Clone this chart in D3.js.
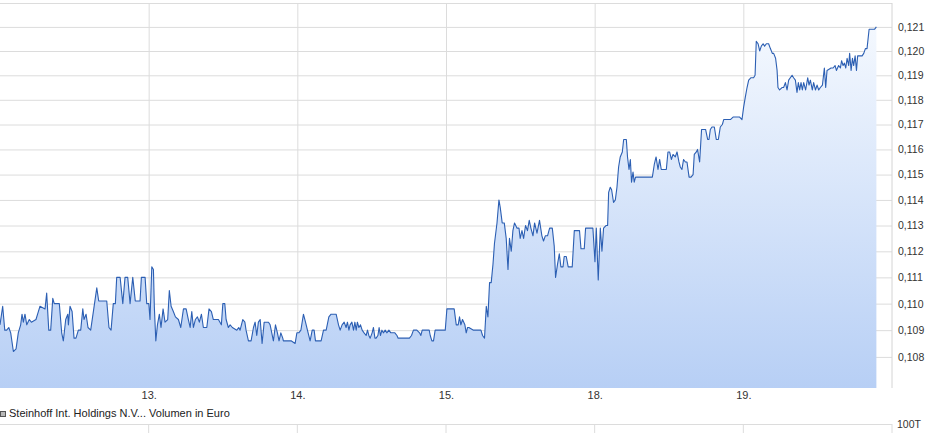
<!DOCTYPE html>
<html>
<head>
<meta charset="utf-8">
<script src="https://d3js.org/d3.v7.min.js"></script>
<style>
  body { margin: 0; background: #fff; }
  svg { display: block; font-family: "Liberation Sans", Arial, sans-serif; }
</style>
</head>
<body>
<div id="chart"></div>
<script>
// trading days shown (12. is the cut-off first day at the left edge)
const dayTicks = [1, 2, 3, 4, 5];
const dayLabels = ["13.", "14.", "15.", "18.", "19."];

const priceTicks = [0.108, 0.109, 0.110, 0.111, 0.112, 0.113, 0.114, 0.115, 0.116, 0.117, 0.118, 0.119, 0.120, 0.121];
const gridTicks = [0.108, 0.109, 0.110, 0.111, 0.112, 0.113, 0.114, 0.115, 0.116, 0.117, 0.118, 0.119, 0.120, 0.121, 0.122];
const yDomain = [0.10685, 0.122];
const xDomain = [0, 6];

const legendText = "Steinhoff Int. Holdings N.V... Volumen in Euro";
const volumeTick = "100T";

// time in trading days since the open of the 12th
const times = [
  0.000, 0.018, 0.032, 0.045, 0.059, 0.072, 0.090, 0.108, 0.123, 0.139, 0.148, 0.157, 0.168, 0.180, 0.197, 0.211,
  0.242, 0.258, 0.269, 0.303, 0.314, 0.328, 0.341, 0.355, 0.365, 0.399, 0.415, 0.426, 0.442, 0.456, 0.460, 0.471,
  0.485, 0.498, 0.511, 0.527, 0.543, 0.557, 0.565, 0.579, 0.592, 0.610, 0.628, 0.651, 0.664, 0.718, 0.733, 0.747,
  0.762, 0.776, 0.785, 0.808, 0.826, 0.841, 0.859, 0.875, 0.893, 0.910, 0.942, 0.951, 0.976, 0.987, 1.001, 1.009,
  1.021, 1.032, 1.038, 1.048, 1.059, 1.072, 1.083, 1.097, 1.110, 1.128, 1.139, 1.151, 1.166, 1.180, 1.200, 1.216,
  1.234, 1.252, 1.267, 1.279, 1.290, 1.301, 1.314, 1.328, 1.341, 1.355, 1.368, 1.391, 1.406, 1.422, 1.435, 1.469,
  1.489, 1.499, 1.512, 1.521, 1.536, 1.548, 1.563, 1.593, 1.606, 1.615,
  1.633, 1.647, 1.655, 1.671, 1.689, 1.705, 1.716, 1.727, 1.738, 1.750, 1.763, 1.777, 1.806, 1.817, 1.828, 1.839,
  1.853, 1.866, 1.877, 1.889, 1.902, 1.906, 1.958, 1.985, 1.997, 2.010, 2.024, 2.041, 2.055, 2.068, 2.086, 2.100,
  2.113, 2.122, 2.160, 2.176, 2.194, 2.212, 2.227, 2.261, 2.277, 2.288, 2.301, 2.315, 2.328, 2.337, 2.347, 2.355,
  2.367, 2.378, 2.387, 2.396, 2.404, 2.414, 2.425, 2.436, 2.449, 2.463, 2.472, 2.481, 2.490, 2.503, 2.512, 2.522,
  2.530, 2.542, 2.550, 2.559, 2.569, 2.579, 2.591, 2.602, 2.616, 2.629, 2.643, 2.656, 2.670, 2.678, 2.725, 2.754,
  2.768, 2.781, 2.804, 2.822, 2.831, 2.840, 2.887, 2.894, 2.905, 2.916, 2.927, 2.995, 3.006, 3.055, 3.069, 3.082,
  3.091, 3.100, 3.111, 3.127, 3.136, 3.145, 3.154, 3.185, 3.219, 3.235, 3.246, 3.259, 3.271, 3.282, 3.293, 3.304,
  3.316, 3.326, 3.343, 3.356, 3.365, 3.378, 3.392, 3.405, 3.417, 3.427, 3.439, 3.450, 3.461, 3.477, 3.491, 3.499,
  3.511, 3.522, 3.535, 3.548, 3.560, 3.571, 3.585, 3.596, 3.612, 3.629, 3.645, 3.656, 3.668, 3.683, 3.697, 3.715,
  3.728, 3.737, 3.750, 3.762, 3.773, 3.787, 3.795, 3.809, 3.822, 3.849, 3.863, 3.898, 3.908, 3.930, 3.939, 3.988,
  4.002, 4.011, 4.024, 4.038, 4.049, 4.060, 4.076, 4.087, 4.094, 4.105, 4.114, 4.127, 4.139, 4.150, 4.161, 4.172,
  4.186, 4.195, 4.213, 4.221, 4.231, 4.240, 4.248, 4.258, 4.266, 4.275, 4.285, 4.388, 4.401, 4.413, 4.426, 4.437,
  4.448, 4.482, 4.493, 4.504, 4.516, 4.527, 4.542, 4.554, 4.567, 4.576, 4.587, 4.598, 4.610, 4.621, 4.635, 4.648,
  4.662, 4.670, 4.684, 4.692, 4.706, 4.719, 4.746, 4.760, 4.769, 4.778, 4.789, 4.805, 4.818, 4.832, 4.845, 4.859,
  4.868, 4.913, 4.931, 4.962, 4.975, 4.991, 5.002, 5.013, 5.025, 5.036, 5.052, 5.069, 5.079, 5.087, 5.099, 5.110,
  5.121, 5.133, 5.143, 5.155, 5.170, 5.182, 5.195, 5.204, 5.217, 5.227, 5.233, 5.244, 5.260, 5.271, 5.283, 5.294,
  5.305, 5.316, 5.328, 5.338, 5.350, 5.361, 5.370, 5.379, 5.388, 5.397, 5.406, 5.419, 5.433, 5.442, 5.451, 5.464,
  5.473, 5.485, 5.496, 5.507, 5.518, 5.532, 5.545, 5.554, 5.563, 5.590, 5.604, 5.617, 5.626, 5.641, 5.653, 5.661,
  5.671, 5.680, 5.689, 5.698, 5.709, 5.715, 5.725, 5.734, 5.742, 5.752, 5.761, 5.769, 5.799, 5.810, 5.821, 5.832,
  5.846, 5.866, 5.882, 5.895
];

const prices = [
  .1092, .1099, .1090, .1090, .1091, .1089, .1082, .1083, .1089, .1092, .1096, .1093, .1096, .1092, .1094, .1093,
  .1094, .1097, .1099, .1098, .1104, .1090, .1090, .1102, .1100, .1100, .1089, .1086, .1094, .1096, .1092, .1099,
  .1097, .1087, .1087, .1090, .1090, .1098, .1094, .1096, .1091, .1090, .1097, .1106, .1101, .1101, .1091, .1090,
  .1100, .1100, .1110, .1110, .1100, .1110, .1110, .1100, .1110, .1101, .1101, .1110, .1110, .1100, .1100, .1094,
  .1114, .1113, .1099, .1086, .1092, .1096, .1091, .1098, .1093, .1094, .1105, .1099, .1097, .1095, .1094, .1091,
  .1098, .1098, .1094, .1091, .1097, .1091, .1094, .1095, .1093, .1096, .1091, .1091, .1098, .1097, .1094, .1094,
  .1092, .1100, .1100, .1094, .1091, .1092, .1091, .1090, .1091, .1090,
  .1094, .1093, .1090, .1086, .1086, .1091, .1093, .1088, .1093, .1094, .1085, .1093, .1093, .1092, .1089, .1086,
  .1092, .1089, .1086, .1089, .1087, .1086, .1086, .1085, .1089, .1089, .1090, .1096, .1093, .1090, .1086, .1090,
  .1090, .1086, .1086, .1090, .1090, .1095, .1096, .1096, .1092, .1090, .1092, .1093, .1091, .1093, .1090, .1092,
  .1093, .1090, .1093, .1090, .1093, .1091, .1092, .1090, .1089, .1088, .1090, .1088, .1087, .1089, .1091, .1087,
  .1087, .1088, .1091, .1088, .1090, .1089, .1090, .1089, .1090, .1089, .1089, .1089, .1088, .1087, .1087, .1087,
  .1088, .1090, .1090, .1089, .1088, .1090, .1090, .1088, .1086, .1086, .1090, .1090, .1098, .1098, .1092, .1092,
  .1095, .1092, .1094, .1092, .1089, .1091, .1091, .1090, .1090, .1090, .1088, .1087, .1099, .1095, .1108, .1108,
  .1115, .1123, .1131, .1140, .1137, .1131, .1131, .1125, .1113, .1125, .1120, .1128, .1131, .1129, .1129, .1125,
  .1128, .1125, .1130, .1128, .1132, .1129, .1126, .1131, .1127, .1132, .1126, .1124, .1126, .1126, .1129, .1129,
  .1122, .1110, .1115, .1119, .1114, .1114, .1118, .1118, .1114, .1114, .1128, .1128, .1121, .1121, .1129, .1129,
  .1116, .1129, .1109, .1129, .1120, .1129, .1130, .1130, .1143, .1145, .1144, .1139, .1140, .1145, .1153, .1157,
  .1159, .1164, .1164, .1157, .1152, .1156, .1147, .1151, .1147, .1149, .1149, .1149, .1154, .1157, .1152, .1156,
  .1152, .1152, .1159, .1159, .1156, .1158, .1157, .1159, .1155, .1153, .1152, .1156, .1155, .1155, .1149, .1149,
  .1150, .1158, .1159, .1160, .1155, .1168, .1168, .1164, .1164, .1168, .1169, .1169, .1164, .1164, .1169, .1170,
  .1172, .1172, .1173, .1173, .1173, .1172, .1177, .1181, .1185, .1188, .1189, .1189, .1190, .1204, .1203, .1200,
  .1202, .1203, .1202, .1203, .1203, .1201, .1199, .1199, .1197, .1192, .1185, .1184, .1185, .1185, .1187, .1184,
  .1188, .1189, .1190, .1189, .1188, .1183, .1187, .1184, .1187, .1184, .1187, .1184, .1189, .1186, .1188, .1184,
  .1187, .1184, .1186, .1184, .1185, .1186, .1193, .1185, .1192, .1193, .1193, .1194, .1192, .1194, .1193, .1196,
  .1194, .1195, .1193, .1197, .1194, .1199, .1192, .1197, .1194, .1198, .1192, .1198, .1198, .1199, .1201, .1201,
  .1209, .1209, .1209, .1210
];

function drawChart() {
    const data = times.map((t, i) => ({ t: t, p: prices[i] }));

    const width = 938, height = 433;
    const plotRight = 892, plotTop = 3, plotBottom = 388;
    const volTop = 424;

    const svg = d3.select("#chart")
        .append("svg")
        .attr("width", width)
        .attr("height", height);

    const x = d3.scaleLinear()
        .domain(xDomain)
        .range([0, plotRight]);

    const y = d3.scaleLog()
        .domain(yDomain)
        .range([plotBottom, plotTop]);

    const fmt = d => d3.format(".3f")(d).replace(".", ",");

    // gradient for the area under the line
    const grad = svg.append("defs").append("linearGradient")
        .attr("id", "areaFill")
        .attr("gradientUnits", "userSpaceOnUse")
        .attr("x1", 0).attr("y1", plotTop)
        .attr("x2", 0).attr("y2", plotBottom);
    grad.append("stop").attr("offset", "0%").attr("stop-color", "#f8fbff");
    grad.append("stop").attr("offset", "100%").attr("stop-color", "#b7cff5");

    // horizontal gridlines
    svg.append("g")
        .attr("class", "ygrid")
        .attr("transform", `translate(${plotRight},0)`)
        .call(d3.axisRight(y).tickValues(gridTicks).tickSize(-plotRight).tickFormat(""))
        .call(g => g.select(".domain").remove())
        .call(g => g.selectAll("line").attr("stroke", "#dcdcdc"));

    // vertical gridlines + day labels
    svg.append("g")
        .attr("class", "xaxis")
        .attr("transform", `translate(0,${plotBottom})`)
        .call(d3.axisBottom(x).tickValues(dayTicks).tickSize(-(plotBottom - plotTop)).tickPadding(3)
            .tickFormat((d, i) => dayLabels[i]))
        .call(g => g.select(".domain").remove())
        .call(g => g.selectAll("line").attr("stroke", "#dcdcdc"))
        .call(g => g.selectAll("text").attr("fill", "#333").style("font-size", "11px"));

    // right border of the price panel
    svg.append("line")
        .attr("x1", plotRight).attr("x2", plotRight)
        .attr("y1", plotTop).attr("y2", plotBottom)
        .attr("stroke", "#d4d4d4");

    // price labels on the right
    svg.append("g")
        .attr("class", "ylabels")
        .attr("transform", `translate(${plotRight},0)`)
        .call(d3.axisRight(y).tickValues(priceTicks).tickSize(0).tickPadding(6).tickFormat(fmt))
        .call(g => g.select(".domain").remove())
        .call(g => g.selectAll("text").attr("fill", "#333").style("font-size", "10.5px"));

    const area = d3.area()
        .x(d => x(d.t))
        .y0(plotBottom)
        .y1(d => y(d.p));

    const line = d3.line()
        .x(d => x(d.t))
        .y(d => y(d.p));

    svg.append("path")
        .datum(data)
        .attr("d", area)
        .style("fill", "url(#areaFill)");

    svg.append("path")
        .datum(data)
        .attr("d", line)
        .style("fill", "none")
        .style("stroke", "#2c5fb3")
        .style("stroke-width", 1.1)
        .style("stroke-linejoin", "round");

    // legend of the volume panel
    svg.append("rect")
        .attr("x", 0.5).attr("y", 411.5)
        .attr("width", 5).attr("height", 5)
        .style("fill", "#b8b8b8")
        .style("stroke", "#555")
        .style("stroke-width", 1);

    svg.append("text")
        .attr("x", 9)
        .attr("y", 417)
        .style("font-size", "11px")
        .style("fill", "#222")
        .text(legendText);

    // volume panel (only its top is visible)
    svg.append("line")
        .attr("x1", 0).attr("x2", plotRight)
        .attr("y1", volTop + 0.5).attr("y2", volTop + 0.5)
        .attr("stroke", "#dcdcdc");

    svg.selectAll(".volgrid")
        .data(dayTicks.concat([xDomain[1]]))
        .enter()
        .append("line")
        .attr("class", "volgrid")
        .attr("x1", d => x(d)).attr("x2", d => x(d))
        .attr("y1", volTop).attr("y2", height)
        .attr("stroke", "#dcdcdc");

    svg.append("text")
        .attr("x", plotRight + 5)
        .attr("y", volTop)
        .attr("dy", "0.35em")
        .style("font-size", "10.5px")
        .style("fill", "#333")
        .text(volumeTick);
}

drawChart();
</script>
</body>
</html>
